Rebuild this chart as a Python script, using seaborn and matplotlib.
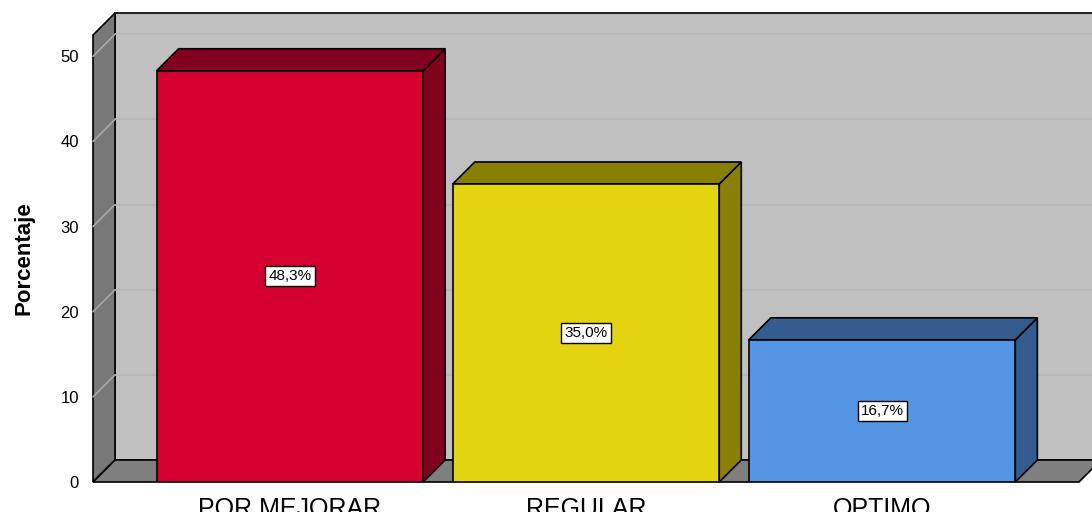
import matplotlib
matplotlib.use("Agg")
from matplotlib import pyplot as plt
from matplotlib.patches import Polygon
import seaborn as sns

categories = ["POR MEJORAR", "REGULAR", "OPTIMO"]
percentages = [48.3, 35.0, 16.7]
front_colors = ["#D50030", "#E3D40F", "#5596E4"]
shade_colors = ["#820020", "#8A7F05", "#345C8F"]
y_ticks = [0, 10, 20, 30, 40, 50]

sns.set_style("white", {"text.color": "black", "xtick.color": "black", "ytick.color": "black",
                        "axes.labelcolor": "black"})
plt.rcParams["font.family"] = ["Liberation Sans", "DejaVu Sans"]

fig = plt.figure(figsize=(10.92, 5.12), dpi=100)
ax = fig.add_axes([93 / 1092, 30 / 512, 986 / 1092, 447 / 512])
ax.set_facecolor("none")

sns.barplot(x=categories, y=percentages, hue=categories, palette=front_colors,
            width=0.9, edgecolor="black", linewidth=1.2, legend=False,
            saturation=1, ax=ax, zorder=3)
bars = list(ax.patches)

xmin, xmax, ymax = -0.665, 2.665, 52.5
ax.set_xlim(xmin, xmax)
ax.set_ylim(0, ymax)

# depth of the 3D effect, 22 px right and up, in data units
p0 = ax.transData.transform((0, 0))
p1 = ax.transData.transform((1, 10))
dx = 22 / (p1[0] - p0[0])
dy = 22 * 10 / (p1[1] - p0[1])

def poly(pts, color, z, lw=1.2):
    ax.add_patch(Polygon(pts, closed=True, facecolor=color, edgecolor="black",
                         linewidth=lw, zorder=z, clip_on=False))

# back wall, left wall, floor
poly([(xmin + dx, dy), (xmax + dx, dy), (xmax + dx, ymax + dy), (xmin + dx, ymax + dy)], "#C0C0C0", 0)
poly([(xmin, 0), (xmin + dx, dy), (xmin + dx, ymax + dy), (xmin, ymax)], "#787878", 0)
poly([(xmin, 0), (xmax, 0), (xmax + dx, dy), (xmin + dx, dy)], "#7F7F7F", 0.5)

for t in y_ticks[1:]:
    ax.plot([xmin + dx, xmax + dx], [t + dy, t + dy], color="#B6B6B6", lw=1.2, zorder=0.2, clip_on=False)
    ax.plot([xmin, xmin + dx], [t, t + dy], color="#A8A8A8", lw=1.2, zorder=0.2, clip_on=False)

for bar, shade, v in zip(bars, shade_colors, percentages):
    x0 = bar.get_x()
    x1 = x0 + bar.get_width()
    h = bar.get_height()
    poly([(x1, 0), (x1 + dx, dy), (x1 + dx, h + dy), (x1, h)], shade, 2)
    poly([(x0, h), (x1, h), (x1 + dx, h + dy), (x0 + dx, h + dy)], shade, 2)
    label = f"{v:.1f}%".replace(".", ",")
    ax.text(x0 + bar.get_width() / 2, h / 2, label, ha="center", va="center",
            fontsize=11, zorder=5,
            bbox=dict(boxstyle="square,pad=0.2", facecolor="white", edgecolor="black", linewidth=1))

sns.despine(ax=ax, left=True, bottom=True, top=True, right=True)
ax.set_yticks(y_ticks)
ax.set_yticklabels([str(t) for t in y_ticks], fontsize=12)
ax.tick_params(axis="y", length=0, pad=10)
ax.tick_params(axis="x", length=0, pad=11, labelsize=18)
ax.set_ylabel("Porcentaje", fontsize=16, fontweight="bold")
ax.yaxis.set_label_coords(-58 / 986, 0.5)
ax.set_xlabel("")

fig.savefig("out.png", dpi=100)
